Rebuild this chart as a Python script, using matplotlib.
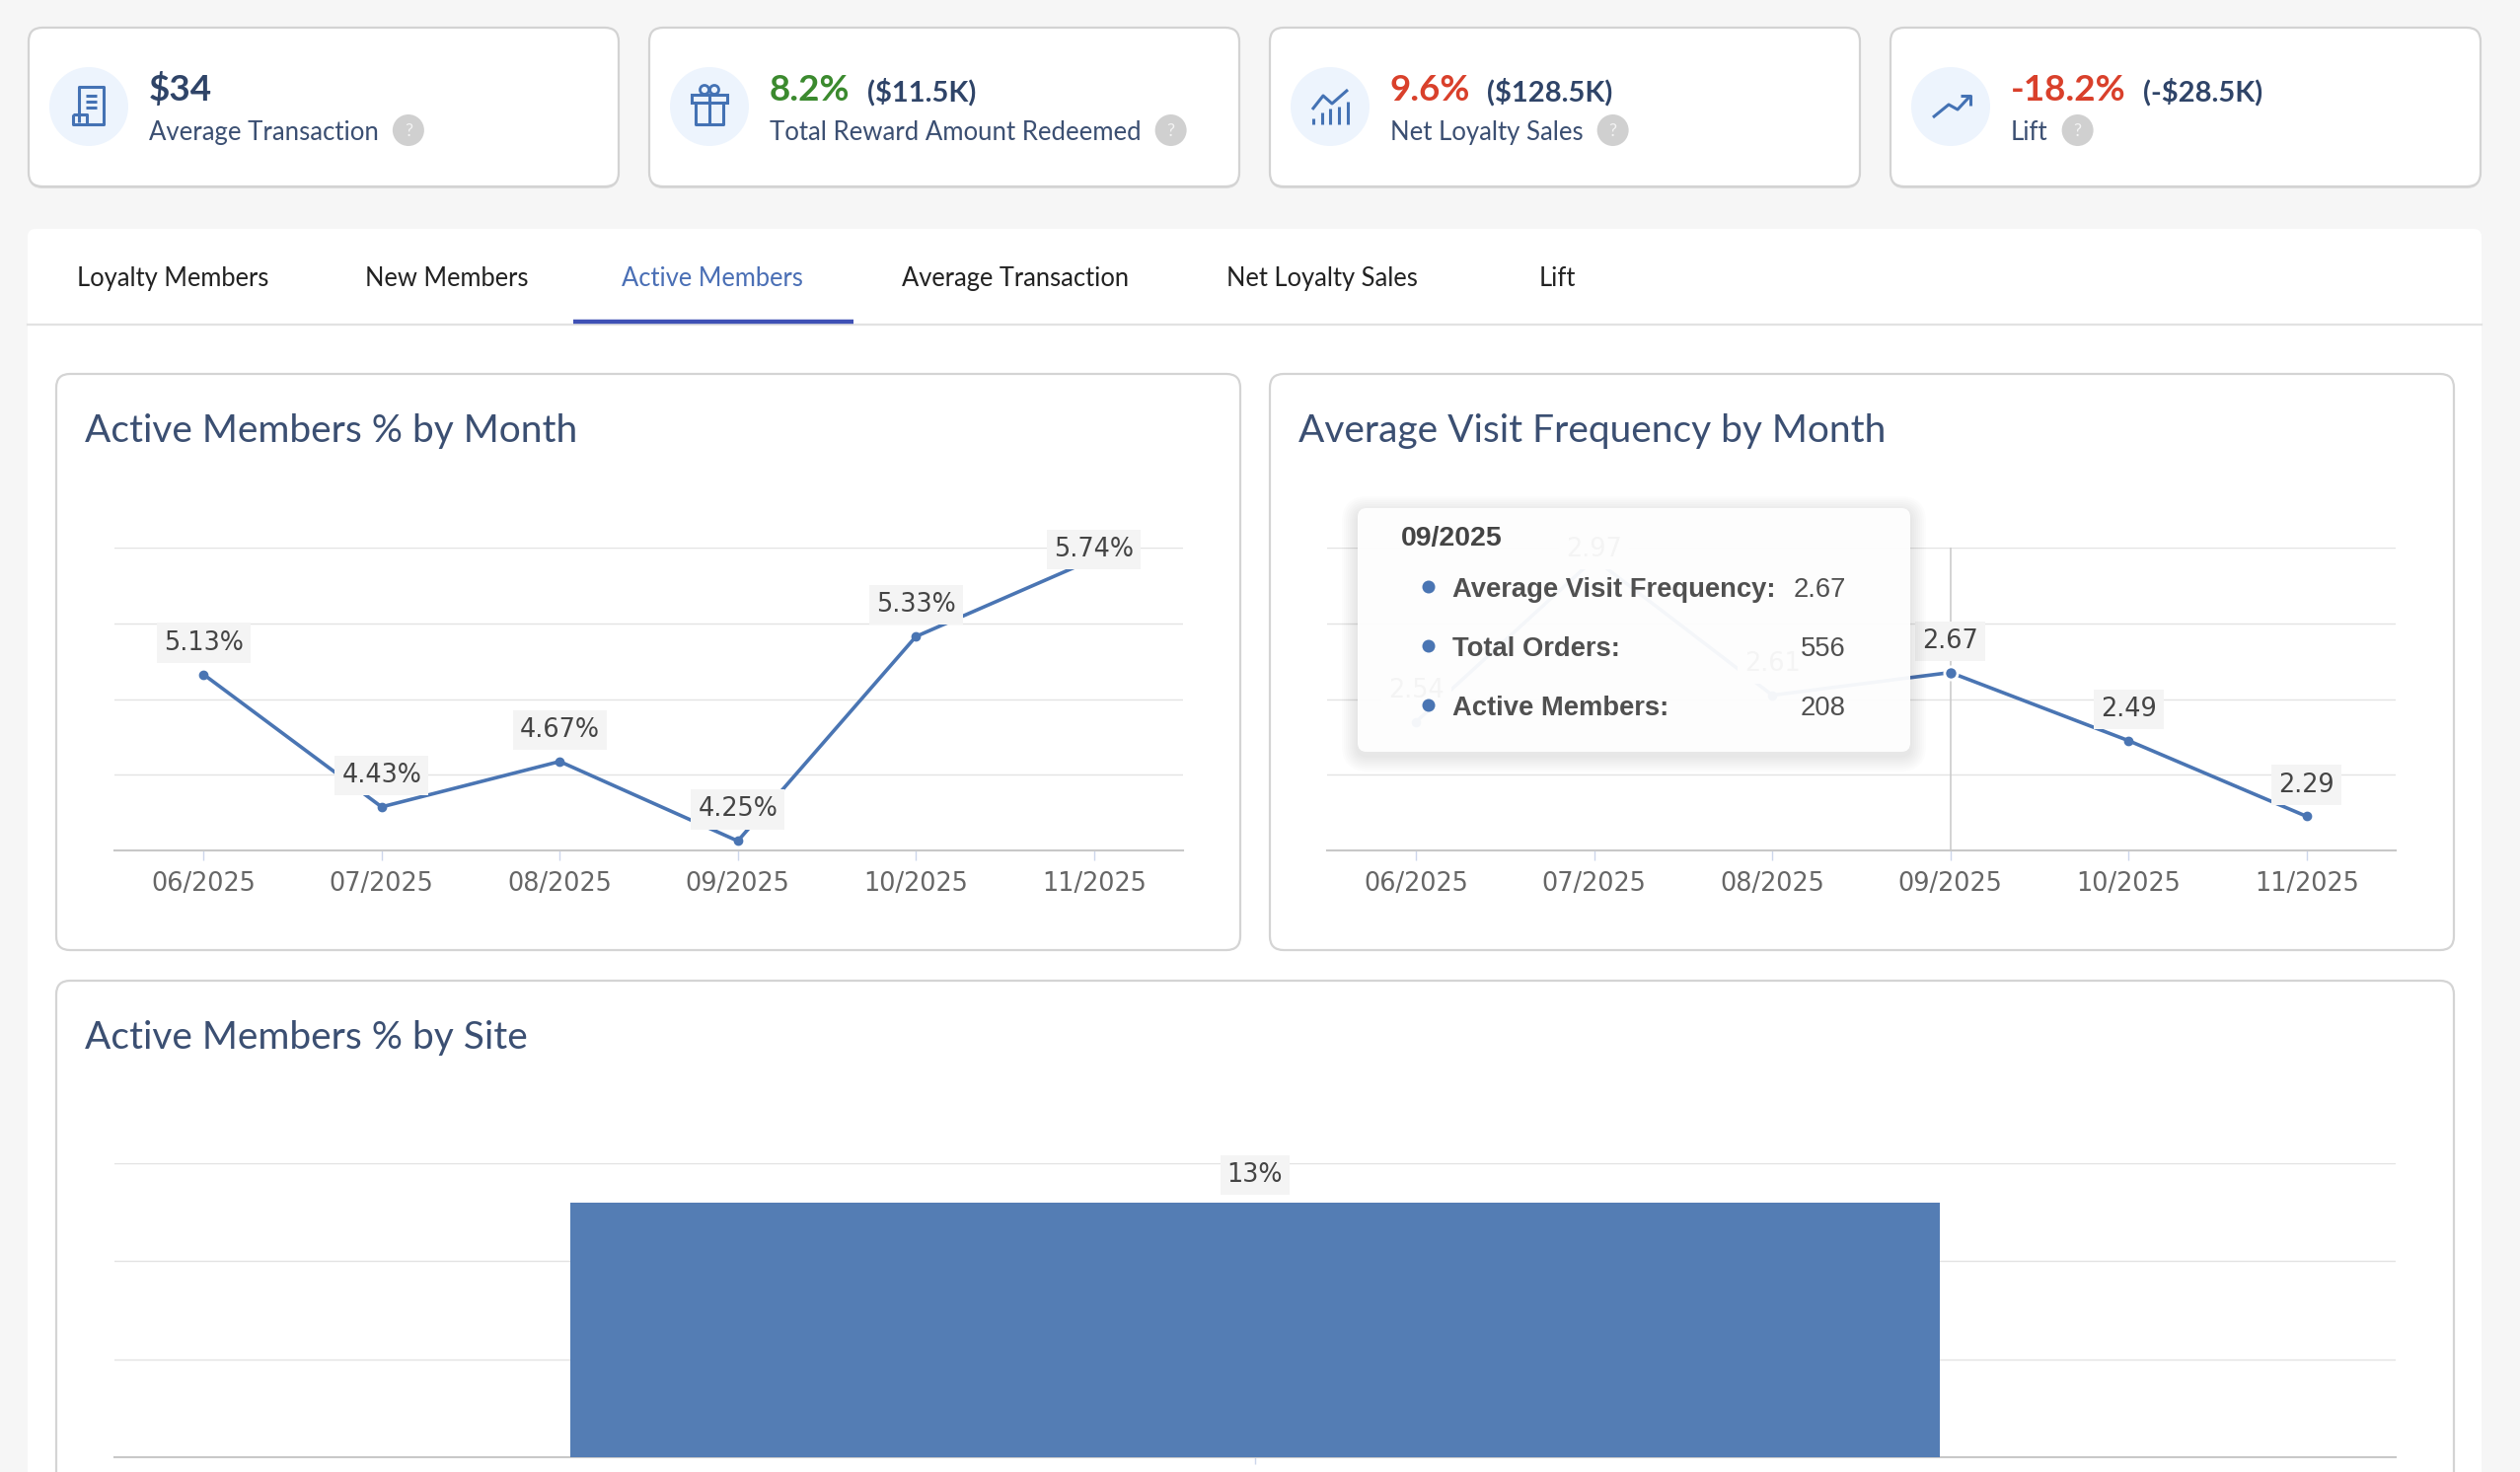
import numpy as np
import matplotlib
matplotlib.use('Agg')
import matplotlib.pyplot as plt
from matplotlib.patches import FancyBboxPatch, Circle, Rectangle

plt.rcParams['font.family'] = ['DejaVu Sans']

W, H = 2554, 1492
UI = 'Lato'
BLUE = '#4a75b3'
NAVY = '#3b4f72'

# ---- data ----
months = ['06/2025', '07/2025', '08/2025', '09/2025', '10/2025', '11/2025']
active_pct = [5.13, 4.43, 4.67, 4.25, 5.33, 5.74]
visit_freq = [2.54, 2.97, 2.61, 2.67, 2.49, 2.29]
site_pct = [13]

kpi_values = ['$34', '8.2%', '9.6%', '-18.2%']
kpi_extras = ['', '($11.5K)', '($128.5K)', '(-$28.5K)']
kpi_labels = ['Average Transaction', 'Total Reward Amount Redeemed',
              'Net Loyalty Sales', 'Lift']
kpi_colors = ['#2f4468', '#3b8a2e', '#d9402b', '#d9402b']

tabs = ['Loyalty Members', 'New Members', 'Active Members',
        'Average Transaction', 'Net Loyalty Sales', 'Lift']
active_tab = 2

tip_index = 3
tip_rows = [('Average Visit Frequency:', '2.67'),
            ('Total Orders:', '556'),
            ('Active Members:', '208')]

# layout (pixels)
kpi_x = [29, 658, 1287, 1916]
tab_x = [78, 370, 630, 914, 1243, 1560]


def frac(x0, y0, x1, y1):
    return [x0 / W, 1 - y1 / H, (x1 - x0) / W, (y1 - y0) / H]


def box(ax, x0, y0, x1, y1, r, fc='white', ec='#d6d6d6', lw=1.5, z=1, alpha=1.0):
    p = FancyBboxPatch((x0, y0), x1 - x0, y1 - y0,
                       boxstyle=f'round,pad=0,rounding_size={r}',
                       fc=fc, ec=ec, lw=lw, zorder=z, alpha=alpha)
    ax.add_patch(p)
    return p


fig = plt.figure(figsize=(W / 100, H / 100), dpi=100, facecolor='#f6f6f6')
rend = fig.canvas.get_renderer()

bg = fig.add_axes([0, 0, 1, 1])
bg.set_xlim(0, W)
bg.set_ylim(H, 0)
bg.axis('off')


def icon(ax, i, cx, cy):
    kw = dict(color='#4472b4', lw=2.2, solid_capstyle='butt', zorder=4)
    if i == 0:  # receipt
        ax.plot([cx - 10, cx - 10, cx + 15, cx + 15, cx - 2], [cy + 16, cy - 20, cy - 20, cy + 18, cy + 18], **kw)
        ax.plot([cx - 16, cx - 16, cx - 2, cx - 2, cx - 16], [cy + 8, cy + 18, cy + 18, cy + 8, cy + 8], **kw)
        for yy in (cy - 11, cy - 5, cy + 1):
            ax.plot([cx - 3, cx + 8], [yy, yy], **kw)
    elif i == 1:  # gift
        ax.plot([cx - 14, cx - 14, cx + 14, cx + 14], [cy - 4, cy + 18, cy + 18, cy - 4], **kw)
        ax.add_patch(Rectangle((cx - 18, cy - 12), 36, 8, fc='none', ec='#4472b4', lw=2.2, zorder=4))
        ax.plot([cx, cx], [cy - 12, cy + 18], **kw)
        ax.add_patch(Circle((cx - 5, cy - 17), 4.5, fc='none', ec='#4472b4', lw=2, zorder=4))
        ax.add_patch(Circle((cx + 5, cy - 17), 4.5, fc='none', ec='#4472b4', lw=2, zorder=4))
    elif i == 2:  # bar chart with line
        heights = [6, 12, 16, 18, 23]
        for k, hgt in enumerate(heights):
            xx = cx - 17 + k * 8.7
            ax.plot([xx, xx], [cy + 18, cy + 18 - hgt], **kw)
        ax.plot([cx - 18, cx - 7, cx + 2, cx + 18], [cy + 3, cy - 11, cy - 3, cy - 17], **kw)
    else:  # trend arrow
        ax.plot([cx - 18, cx - 2, cx + 7, cx + 20], [cy + 11, cy - 2, cy + 3, cy - 11], **kw)
        ax.plot([cx + 10, cx + 20, cx + 20], [cy - 11, cy - 11, cy - 1], **kw)


# ---- KPI cards ----
for i in range(4):
    x0 = kpi_x[i]
    box(bg, x0, 31, x0 + 598, 191, 14, fc='#dcdcdc', ec='none', z=1)
    box(bg, x0, 28, x0 + 598, 189, 14, ec='#d3d3d3', lw=1.6, z=2)
    cx = x0 + 61
    bg.add_patch(Circle((cx, 108), 40, fc='#edf4fd', ec='none', zorder=3))
    icon(bg, i, cx, 108)
    tx = x0 + 122
    t = bg.text(tx, 102, kpi_values[i], family=UI, weight='bold', fontsize=26.5,
                color=kpi_colors[i], va='baseline', zorder=4)
    if kpi_extras[i]:
        bb = t.get_window_extent(rend)
        bg.text(bb.x1 + 17, 102, kpi_extras[i], family=UI, weight='bold',
                fontsize=21, color='#2f4468', va='baseline', zorder=4)
    t2 = bg.text(tx, 142, kpi_labels[i], family=UI, fontsize=18.5, color=NAVY,
                 va='baseline', zorder=4)
    bb = t2.get_window_extent(rend)
    qx = bb.x1 + 30
    bg.add_patch(Circle((qx, 132), 16, fc='#d0d0d0', ec='none', zorder=4))
    bg.text(qx, 133, '?', ha='center', va='center', color='#f4f4f4',
            fontsize=13, family=UI, zorder=5)

# ---- tab panel ----
box(bg, 28, 232, 2515, H + 40, 8, ec='none', z=1)
bg.plot([28, 2515], [329, 329], color='#e2e2e2', lw=1.6, zorder=2)
for i, name in enumerate(tabs):
    bg.text(tab_x[i], 290, name, family=UI, fontsize=18.4, va='baseline',
            color='#4a6fb5' if i == active_tab else '#222222', zorder=3)
bg.plot([581, 865], [326, 326], color='#3f51b5', lw=3.2, solid_capstyle='butt', zorder=3)

# ---- chart cards ----
box(bg, 57, 379, 1257, 963, 14, ec='#d4d4d4', lw=1.6, z=2)
box(bg, 1287, 379, 2487, 963, 14, ec='#d4d4d4', lw=1.6, z=2)
box(bg, 57, 994, 2487, H + 40, 14, ec='#d4d4d4', lw=1.6, z=2)
for (x, y, s) in [(86, 448, 'Active Members % by Month'),
                  (1316, 448, 'Average Visit Frequency by Month'),
                  (86, 1063, 'Active Members % by Site')]:
    bg.text(x, y, s, family=UI, fontsize=28, color=NAVY, va='baseline', zorder=3)


def style_axes(ax, yticks):
    ax.set_facecolor('none')
    ax.set_yticks(yticks)
    ax.yaxis.grid(True, color='#e3e3e3', lw=1.0)
    ax.set_axisbelow(True)
    ax.tick_params(axis='y', length=0, labelleft=False)
    for s in ['top', 'left', 'right']:
        ax.spines[s].set_visible(False)
    ax.spines['bottom'].set_color('#c8c8c8')
    ax.spines['bottom'].set_linewidth(1.5)


def data_label(ax, x, y, s, off):
    ax.annotate(s, (x, y), xytext=(0, off), textcoords='offset points',
                ha='center', va='center', fontsize=18.4, color='#444444',
                bbox=dict(boxstyle='square,pad=0.28', fc='#f4f4f4', ec='none'),
                zorder=6, annotation_clip=False)


def line_chart(rect, values, lo, hi, step, fmt):
    ax = fig.add_axes(frac(*rect))
    xs = np.arange(len(values))
    ax.plot(xs, values, color=BLUE, lw=2.6, marker='o', ms=6, zorder=4, clip_on=False)
    ax.set_xlim(-0.5, len(values) - 0.5)
    ax.set_ylim(lo, hi)
    style_axes(ax, np.arange(lo, hi + step / 2, step))
    ax.set_xticks(xs)
    ax.set_xticklabels(months)
    ax.tick_params(axis='x', length=7, width=1, color='#ccd6eb',
                   labelsize=18.4, labelcolor='#666666', pad=8)
    axes_h = rect[3] - rect[1]
    for i, v in enumerate(values):
        # labels are kept inside the plot area, as the chart library does
        room = (hi - v) / (hi - lo) * axes_h * 0.72 - 1.5
        data_label(ax, i, v, fmt.format(v), min(23, room))
    return ax


ax1 = line_chart((116, 555, 1199, 862), active_pct, 4.2, 5.8, 0.4, '{:.2f}%')
ax2 = line_chart((1345, 555, 2428, 862), visit_freq, 2.2, 3.0, 0.2, '{:.2f}')
ax2.plot([tip_index, tip_index], [2.2, 3.0], color='#cccccc', lw=1.2, zorder=2)
ax2.plot(tip_index, visit_freq[tip_index], 'o', ms=9.5, mfc=BLUE, mec='white',
         mew=2, zorder=5, clip_on=False)

# ---- bar chart ----
ax3 = fig.add_axes(frac(116, 1179, 2428, 1477))
ax3.bar(range(len(site_pct)), site_pct, width=0.6, color='#547db4', zorder=3)
ax3.set_xlim(-0.5, len(site_pct) - 0.5)
ax3.set_ylim(0, 15)
style_axes(ax3, [0, 5, 10, 15])
ax3.set_xticks(range(len(site_pct)))
ax3.set_xticklabels([''] * len(site_pct))
ax3.tick_params(axis='x', length=5, width=1, color='#ccd6eb')
for i, v in enumerate(site_pct):
    data_label(ax3, i, v, f'{v}%', 20)

# ---- tooltip overlay ----
tip = fig.add_axes([0, 0, 1, 1])
tip.set_xlim(0, W)
tip.set_ylim(H, 0)
tip.axis('off')
tx0, ty0, tx1, ty1 = 1376, 515, 1936, 762
for k in range(1, 9):
    box(tip, tx0 - k * 2, ty0 - k * 2 + 4, tx1 + k * 2, ty1 + k * 2 + 4, 10 + k * 2,
        fc='black', ec='none', z=1, alpha=0.012)
box(tip, tx0, ty0, tx1, ty1, 9, fc='white', ec='none', z=2, alpha=0.95)
tip.text(1420, 553, months[tip_index], family='Liberation Sans', weight='bold',
         fontsize=20.5, color='#444444', va='baseline', zorder=3)
for k, (lab, val) in enumerate(tip_rows):
    yb = 605 + k * 60
    tip.add_patch(Circle((1448, yb - 10), 6.5, fc=BLUE, ec='none', zorder=3))
    tip.text(1472, yb, lab, family='Liberation Sans', weight='bold', fontsize=19.7,
             color='#505050', va='baseline', zorder=3)
    tip.text(1871, yb, val, family='Liberation Sans', fontsize=19.7,
             color='#505050', va='baseline', ha='right', zorder=3)

fig.savefig('out.png', dpi=100, facecolor=fig.get_facecolor())
